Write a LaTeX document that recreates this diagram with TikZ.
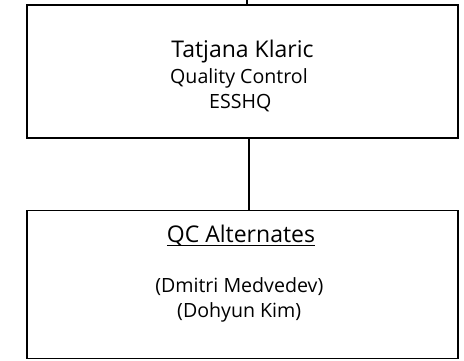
\documentclass[tikz,border=0pt]{standalone}
\usepackage{fontspec}
\setmainfont{Open Sans}
\begin{document}
\begin{tikzpicture}[x=1pt,y=-1pt,
  box/.style={draw=black,line width=1.8pt,minimum width=431pt,inner sep=0pt},
  big/.style={font=\fontsize{23}{27}\selectfont,inner sep=0pt,anchor=base},
  small/.style={font=\fontsize{19.6}{25}\selectfont,inner sep=0pt,anchor=base},
  conn/.style={draw=black,line width=1.8pt}]
\useasboundingbox (0,0) rectangle (464,360);
\node[box,minimum height=133pt] (b1) at (242.5,71.5) {};
\node[box,minimum height=148pt] (b2) at (242.5,284.5) {};
\coordinate (topend) at (247.3,-2);
\draw[conn] ([xshift=4.8pt]b1.north) -- (topend);
\draw[conn] ([xshift=6.5pt]b1.south) -- ([xshift=6.5pt]b2.north);
\node[big] (name) at (242.5,57.5) {Tatjana Klaric};
\node[small] (role) at (239,83.5) {Quality Control};
\node[small] (org) at (240.3,108) {ESSHQ};
\node[big] (alt) at (241,242.5) {QC Alternates};
\draw[line width=1.2pt] ([yshift=-3pt]alt.base west) -- ([yshift=-3pt]alt.base east);
\node[small] (mem1) at (239.3,292) {(Dmitri Medvedev)};
\node[small] (mem2) at (239.2,317) {(Dohyun Kim)};
\end{tikzpicture}
\end{document}
